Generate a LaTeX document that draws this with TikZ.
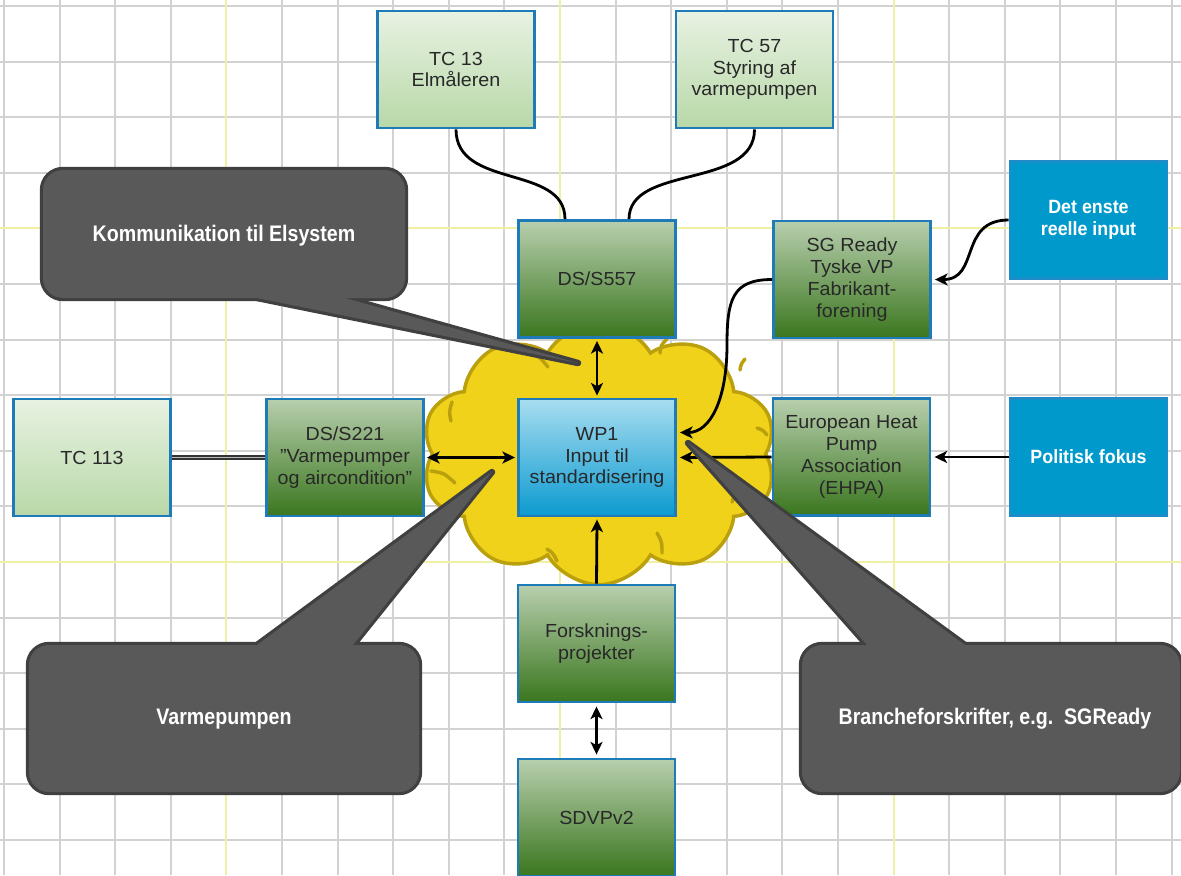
\documentclass[tikz,border=0pt]{standalone}
\usepackage{fontspec}
\setmainfont[FakeStretch=1.04]{Liberation Sans}
\newfontfamily\callfont[FakeStretch=0.87]{Liberation Sans}
\newfontfamily\bluefont[FakeStretch=0.93]{Liberation Sans}
\usetikzlibrary{shapes.symbols,arrows.meta,calc}
\definecolor{gridgray}{RGB}{210,210,210}
\definecolor{gridyellow}{RGB}{240,240,165}
\definecolor{bordblue}{RGB}{31,122,184}
\definecolor{lgtop}{RGB}{232,242,226}
\definecolor{lgbot}{RGB}{184,216,168}
\definecolor{dgtop}{RGB}{184,207,174}
\definecolor{dgbot}{RGB}{58,118,30}
\definecolor{wptop}{RGB}{168,221,240}
\definecolor{wpbot}{RGB}{12,154,208}
\definecolor{bluefill}{RGB}{0,153,204}
\definecolor{blueborder}{RGB}{30,140,200}
\definecolor{cloudfill}{RGB}{240,210,26}
\definecolor{cloudborder}{RGB}{186,160,12}
\definecolor{callfill}{RGB}{89,89,89}
\definecolor{callborder}{RGB}{64,64,64}
\definecolor{txt}{RGB}{40,40,40}
\begin{document}
\begin{tikzpicture}[x=0.75pt,y=-0.75pt,
 box/.style={draw=bordblue, line width=1.9pt, minimum width=118pt, minimum height=88pt, inner sep=2pt, align=center, text=txt, font=\fontsize{14.2}{16.3}\selectfont},
 lgbox/.style={box, top color=lgtop, bottom color=lgbot},
 dgbox/.style={box, top color=dgtop, bottom color=dgbot},
 wpbox/.style={box, top color=wptop, bottom color=wpbot},
 bluebox/.style={box, fill=bluefill, draw=blueborder, text=white, font=\bluefont\bfseries\fontsize{14.4}{16.5}\selectfont},
 conn/.style={line width=2.1pt, black},
 arr/.style={conn, -{Stealth[length=9.5pt,width=9pt,inset=2.5pt]}},
 darr/.style={conn, {Stealth[length=9.5pt,width=9pt,inset=2.5pt]}-{Stealth[length=9.5pt,width=9pt,inset=2.5pt]}},
 callshape/.style={fill=callfill, draw=callborder, line width=4.8pt, line join=round},
 callfillonly/.style={fill=callfill},
 calltext/.style={text=white, font=\callfont\bfseries\fontsize{16.9}{20}\selectfont},
 gridline/.style={draw=gridgray, line width=1.4pt},
 gridyel/.style={draw=gridyellow, line width=1.4pt},
 innerarc/.style={draw=cloudborder, line width=2.6pt, line cap=round}
]
\fill[white] (0,0) rectangle (1181,875);
\useasboundingbox (0,0) rectangle (1181,875);
% grid
\foreach \k in {0,...,21} {\pgfmathsetmacro\gx{4+55.6*\k} \draw[gridline] (\gx,0) -- (\gx,875);}
\foreach \k in {0,...,15} {\pgfmathsetmacro\gy{6+55.6*\k} \draw[gridline] (0,\gy) -- (1181,\gy);}
\foreach \k in {4,10,16} {\pgfmathsetmacro\gx{4+55.6*\k} \draw[gridyel] (\gx,0) -- (\gx,875);}
\foreach \k in {4,10} {\pgfmathsetmacro\gy{6+55.6*\k} \draw[gridyel] (0,\gy) -- (1181,\gy);}
% cloud
\node[cloud, cloud puffs=10, cloud puff arc=120, aspect=1.4, minimum width=266pt, minimum height=196pt, draw=cloudborder, fill=cloudfill, line width=2.6pt] (cloud) at (599,454) {};
\draw[innerarc] (527,353) .. controls (539,356) .. (548,367);
\draw[innerarc] (660,353) .. controls (661,345) .. (667,339);
\draw[innerarc] (740,370) .. controls (741,364) .. (745,359);
\draw[innerarc] (451,421) .. controls (449,412) .. (452,402);
\draw[innerarc] (431,471) .. controls (444,473) .. (455,483);
\draw[innerarc] (547,549) .. controls (553,553) .. (557,561);
\draw[innerarc] (657,533) .. controls (662,542) .. (662,553);
\draw[innerarc] (732,502) .. controls (734,496) .. (737,492);
\draw[innerarc] (757,428) .. controls (763,430) .. (767,435);
% boxes
\node[lgbox] (tc13) at (456,69.5) {TC 13\\Elmåleren};
\node[lgbox] (tc57) at (754.5,69.5) {TC 57\\Styring af\\varmepumpen};
\node[dgbox] (ds557) at (597,279) {DS/S557};
\node[dgbox] (sg) at (852,279.5) {SG Ready\\Tyske VP\\Fabrikant-\\forening};
\node[bluebox] (det) at (1088.5,220) {Det enste\\reelle input};
\node[wpbox] (wp) at (597,457.5) {WP1\\Input til\\standardisering};
\node[lgbox] (tc113) at (92,457.5) {TC 113};
\node[dgbox] (ds221) at (345,457.5) {DS/S221\\"Varmepumper\\og aircondition"};
\node[dgbox] (ehpa) at (851.5,457) {European Heat\\Pump\\Association\\(EHPA)};
\node[bluebox] (pol) at (1088.5,457) {Politisk fokus};
\node[dgbox] (forsk) at (596.5,643.5) {Forsknings-\\projekter};
\node[dgbox] (sdvp) at (596.5,817.5) {SDVPv2};
% connectors
\draw[conn] (tc13.south) .. controls +(0,60) and +(0,-55) .. ($(ds557.north)+(-32,0)$);
\draw[conn] (tc57.south) .. controls +(0,60) and +(0,-55) .. ($(ds557.north)+(32,0)$);
\draw[arr] (det.west) .. controls +(-50,0) and +(45,0) .. ($(sg.east)+(3,0)$);
\coordinate (bend) at (727,345);
\draw[arr] (sg.west) .. controls +(-40,0) and +(0,-45) .. (bend) .. controls +(0,55) and +(30,0) .. ($(wp.east)+(3,-25)$);
\draw[arr] (ehpa.west) -- ($(wp.east)+(3,0)$);
\draw[arr] (pol.west) -- ($(ehpa.east)+(3,0)$);
\draw[darr] ($(ds221.east)+(2,0)$) -- ($(wp.west)+(-2,0)$);
\draw[darr] ($(ds557.south)+(0,2)$) -- ($(wp.north)+(0,-2)$);
\draw[arr] (forsk.north) -- ($(wp.south)+(0,2)$);
\draw[darr] ($(forsk.south)+(0,3)$) -- ($(sdvp.north)+(0,-3)$);
\draw[draw=black!80, line width=1.3pt, double=gray!55, double distance=1.2pt] (tc113.east) -- (ds221.west);
% callouts
\path[callshape, rounded corners=15pt] (43,170) rectangle (405,298);
\path[callshape] (207.6,288) -- (578,363) -- (309,288) -- cycle;
\path[callfillonly, rounded corners=15pt] (43,170) rectangle (405,298);
\path[callfillonly] (207.6,288) -- (578,363) -- (309,288) -- cycle;
\node[calltext] (kom) at (224,236) {Kommunikation til Elsystem};

\path[callshape, rounded corners=15pt] (29,645) rectangle (419,792);
\path[callshape] (243.4,655) -- (492,472) -- (345,655) -- cycle;
\path[callfillonly, rounded corners=15pt] (29,645) rectangle (419,792);
\path[callfillonly] (243.4,655) -- (492,472) -- (345,655) -- cycle;
\node[calltext] (varm) at (224,719) {Varmepumpen};

\path[callshape, rounded corners=15pt] (802,645) rectangle (1180,792);
\path[callshape] (875.9,655) -- (688,443) -- (978.7,655) -- cycle;
\path[callfillonly, rounded corners=15pt] (802,645) rectangle (1180,792);
\path[callfillonly] (875.9,655) -- (688,443) -- (978.7,655) -- cycle;
\node[calltext] (branch) at (995,719) {Brancheforskrifter, e.g.\ \ SGReady};
\end{tikzpicture}
\end{document}
